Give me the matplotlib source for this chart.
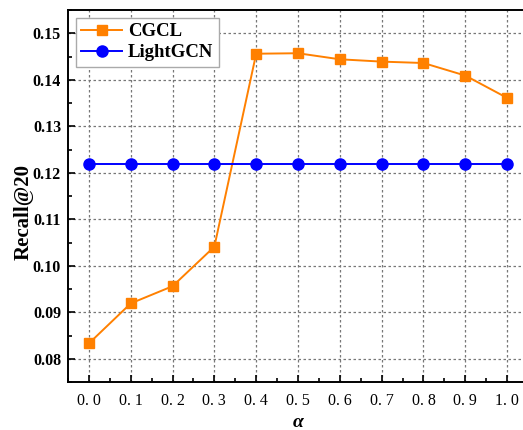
import numpy as np
import matplotlib.pyplot as plt
from matplotlib.ticker import MultipleLocator

# data
alpha = [0.0, 0.1, 0.2, 0.3, 0.4, 0.5, 0.6, 0.7, 0.8, 0.9, 1.0]
cgcl = [0.0833, 0.0919, 0.0956, 0.1041, 0.1456, 0.1457, 0.1444, 0.1439, 0.1436, 0.1409, 0.1361]
lightgcn = [0.1218] * 11
x_labels = ["0. 0", "0. 1", "0. 2", "0. 3", "0. 4", "0. 5", "0. 6", "0. 7", "0. 8", "0. 9", "1. 0"]
y_ticks = [0.08, 0.09, 0.10, 0.11, 0.12, 0.13, 0.14, 0.15]

plt.rcParams["font.family"] = ["Liberation Serif", "DejaVu Serif"]

fig = plt.figure(figsize=(5.23, 4.30), dpi=100)
# axes box in pixels: left 68, right ~528 (cut off), top 10, bottom 382
ax = fig.add_axes([68 / 523, (430 - 382) / 430, 460 / 523, 372 / 430])

ax.plot(alpha, cgcl, color="#FF8000", marker="s", markersize=7, linewidth=1.4, label="CGCL")
ax.plot(alpha, lightgcn, color="#0000FF", marker="o", markersize=8, linewidth=1.4, label="LightGCN")

ax.set_xlim(-0.05, 1.05)
ax.set_ylim(0.075, 0.155)
ax.set_xticks(alpha)
ax.set_xticklabels(x_labels, fontsize=11.5)
ax.set_yticks(y_ticks)
ax.set_yticklabels(["%.2f" % v for v in y_ticks], fontsize=11.5, fontweight="bold")
ax.xaxis.set_minor_locator(MultipleLocator(0.05))
ax.yaxis.set_minor_locator(MultipleLocator(0.005))
ax.tick_params(which="both", direction="in", width=1.2, right=False)
ax.tick_params(which="major", length=5)
ax.tick_params(which="minor", length=3)
ax.tick_params(axis="x", pad=8)
ax.tick_params(axis="y", pad=5)

ax.grid(True, which="major", linestyle=(0, (2, 2)), color="#777777", linewidth=0.9)
for s in ax.spines.values():
    s.set_linewidth(1.4)
ax.spines["right"].set_visible(False)

ax.set_xlabel("α", fontsize=14, fontweight="bold", fontstyle="italic")
ax.xaxis.set_label_coords(0.5, -0.086)
ax.set_ylabel("Recall@20", fontsize=15, fontweight="bold")
ax.yaxis.set_label_coords(-0.074, 0.457)

leg = ax.legend(loc="upper left", prop={"weight": "bold", "size": 13.5},
                fancybox=False, edgecolor="#aaaaaa", handlelength=2.2,
                handletextpad=0.3, borderpad=0.3, labelspacing=0.2,
                borderaxespad=0.4, framealpha=1)

fig.savefig("out.png", dpi=100)
